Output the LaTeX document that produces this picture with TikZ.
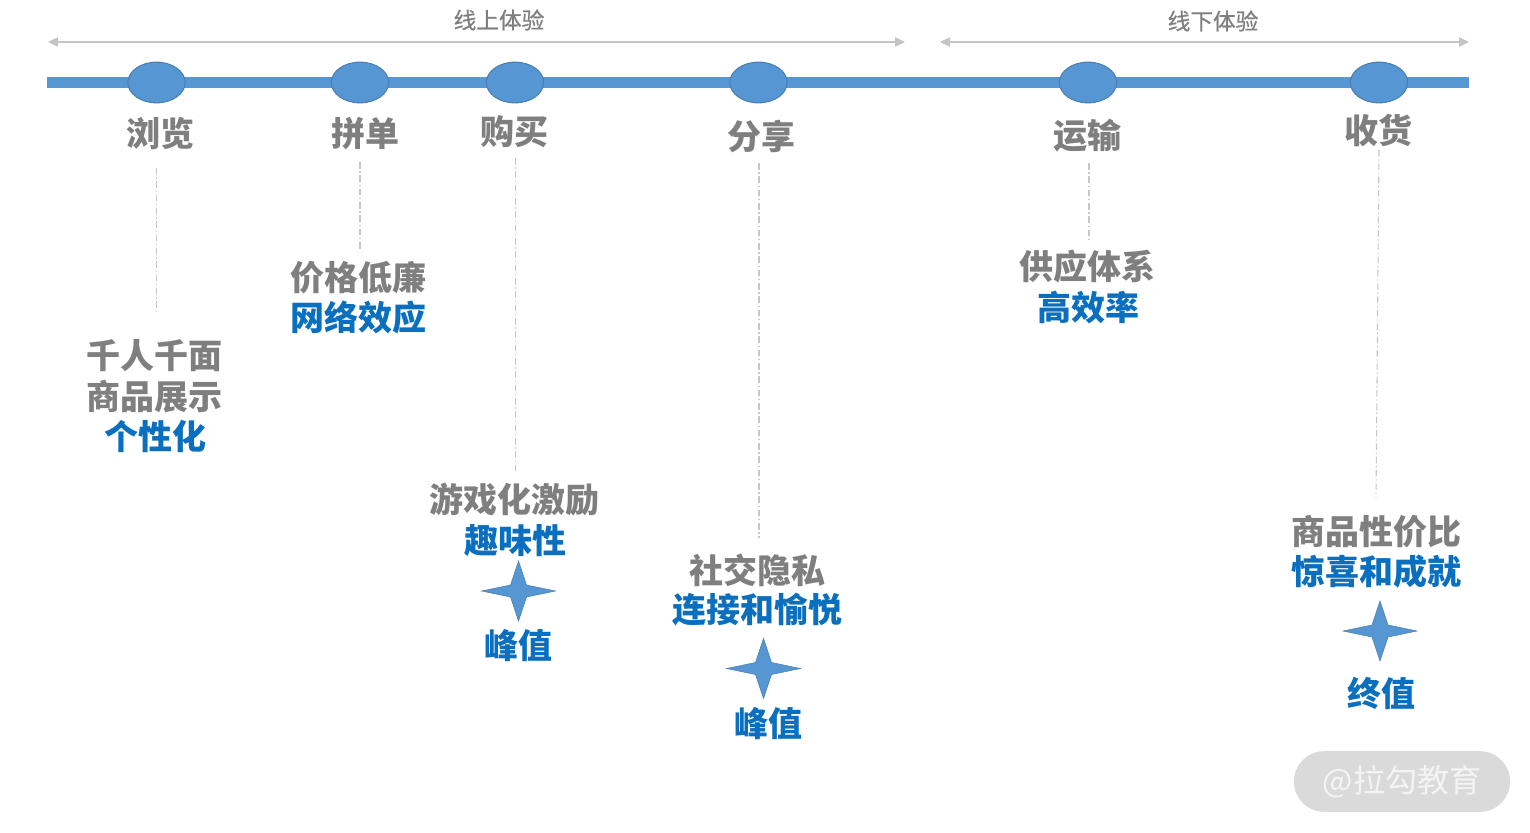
\documentclass[tikz,border=0pt]{standalone}
\usepackage{fontspec}
\usetikzlibrary{arrows.meta,shapes.geometric}
\newfontfamily\cjk{Noto Sans CJK SC}
\newfontfamily\cjkm{Noto Sans CJK SC}[FakeBold=0.6]
\definecolor{barblue}{HTML}{5596D3}
\definecolor{edgeblue}{HTML}{4A7FB3}
\definecolor{txtgray}{HTML}{7F7F7F}
\definecolor{txtblue}{HTML}{0A6FBF}
\definecolor{linegray}{HTML}{C4C4C4}
\definecolor{dashgray}{HTML}{C6C6C6}
\definecolor{wmfill}{HTML}{DADADA}
\definecolor{wmtext}{HTML}{F4F4F4}
\tikzset{
  px/.style={x=0.75pt,y=-0.75pt},
  dot/.style={ellipse,draw=edgeblue,line width=0.8pt,fill=barblue,minimum width=43pt,minimum height=30.5pt,inner sep=0pt},
  stage/.style={font=\cjk\bfseries\fontsize{25.5}{27}\selectfont,text=txtgray,inner sep=0pt},
  grayline/.style={font=\cjk\bfseries\fontsize{25.5}{27}\selectfont,text=txtgray,inner sep=0pt},
  blueline/.style={font=\cjk\bfseries\fontsize{25.5}{27}\selectfont,text=txtblue,inner sep=0pt},
  toplabel/.style={font=\cjkm\fontsize{17}{19}\selectfont,text=txtgray,inner sep=0pt},
  span/.style={draw=linegray,line width=0.9pt,{Triangle[length=7.5pt,width=7pt]}-{Triangle[length=7.5pt,width=7pt]}},
  guide/.style={draw=dashgray,line width=0.8pt,dash pattern=on 5pt off 2pt on 1pt off 2pt},
  fourstar/.style={fill=barblue,draw=edgeblue,line width=0.4pt}
}
\newcommand{\starshape}[1]{%
  \draw[fourstar,shift={(#1)}] (-37,0) -- (-8,-6) -- (0,-30) -- (8,-6) -- (37,0)
   -- (8,6) -- (0,30) -- (-8,6) -- cycle;}
\begin{document}
\begin{tikzpicture}[px]
\useasboundingbox (0,0) rectangle (1530,832);
% main bar
\fill[barblue] (47,76.5) rectangle (1469,87.5);
\node[dot] (d1) at (156.5,82.5) {};
\node[dot] (d2) at (360,82.5) {};
\node[dot] (d3) at (515,82.5) {};
\node[dot] (d4) at (758.5,82.5) {};
\node[dot] (d5) at (1088,82.5) {};
\node[dot] (d6) at (1379,82.5) {};
% span arrows
\coordinate (a1) at (48,42); \coordinate (a2) at (905,42);
\coordinate (a3) at (940,42); \coordinate (a4) at (1469,42);
\draw[span] (a1) -- (a2);
\draw[span] (a3) -- (a4);
\node[toplabel] (t1) at (499,20) {线上体验};
\node[toplabel] (t2) at (1213,21) {线下体验};
% stage names
\node[stage] (s1) at (160,134) {浏览};
\node[stage] (s2) at (365,134) {拼单};
\node[stage] (s3) at (514,131.5) {购买};
\node[stage] (s4) at (761,136) {分享};
\node[stage] (s5) at (1087,135.5) {运输};
\node[stage] (s6) at (1378,130.5) {收货};
% descriptions
\node[grayline] (g1) at (154,356) {千人千面};
\node[grayline] (g1b) at (154,397) {商品展示};
\node[blueline] (b1) at (155,436) {个性化};
\node[grayline] (g2) at (358,277.5) {价格低廉};
\node[blueline] (b2) at (358,318) {网络效应};
\node[grayline] (g3) at (514,499.5) {游戏化激励};
\node[blueline] (b3) at (515,541) {趣味性};
\node[grayline] (g4) at (757,570) {社交隐私};
\node[blueline] (b4) at (757,610) {连接和愉悦};
\node[grayline] (g5) at (1087.5,267) {供应体系};
\node[blueline] (b5) at (1088,308) {高效率};
\node[grayline] (g6) at (1376,532) {商品性价比};
\node[blueline] (b6) at (1376,572) {惊喜和成就};
% guides
\coordinate (c1a) at (156.5,168); \coordinate (c1b) at (156.5,312);
\coordinate (c2a) at (360,162); \coordinate (c2b) at (360,250);
\coordinate (c3a) at (515.5,158); \coordinate (c3b) at (515.5,472);
\coordinate (c4a) at (759,163); \coordinate (c4b) at (759,538);
\coordinate (c5a) at (1089,163); \coordinate (c5b) at (1089,240);
\coordinate (c6a) at (1379,150); \coordinate (c6b) at (1376,497);
\draw[guide] (c1a) -- (c1b);
\draw[guide] (c2a) -- (c2b);
\draw[guide] (c3a) -- (c3b);
\draw[guide] (c4a) -- (c4b);
\draw[guide] (c5a) -- (c5b);
\draw[guide] (c6a) -- (c6b);
% stars and values
\starshape{518.5,591}
\starshape{763.5,668.5}
\starshape{1380,631}
\node[blueline] (v1) at (518,646) {峰值};
\node[blueline] (v2) at (768,724) {峰值};
\node[blueline] (v3) at (1381,693) {终值};
% watermark
\node[fill=wmfill,rounded corners=22.5pt,minimum width=162pt,minimum height=45.5pt,inner sep=0pt,
  text=wmtext,font=\cjk\fontsize{24}{26}\selectfont] (wm) at (1402,781.5) {\raisebox{-0.75pt}{@拉勾教育}};
\end{tikzpicture}
\end{document}
